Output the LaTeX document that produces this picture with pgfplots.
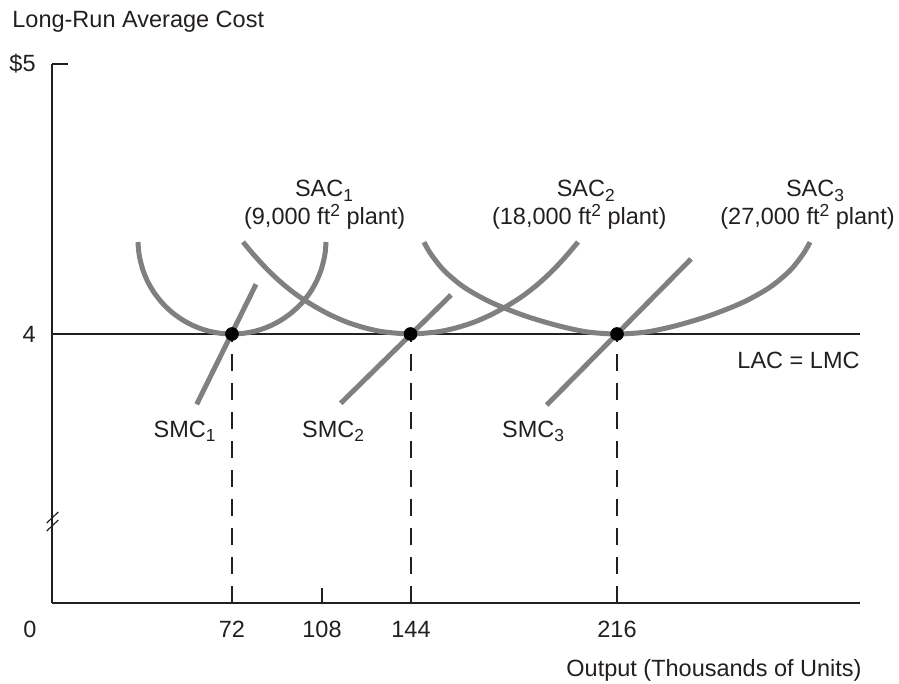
\documentclass[border=0pt]{standalone}
\usepackage{fontspec}
\setmainfont{Liberation Sans}
\usepackage{pgfplots}
\pgfplotsset{compat=1.18}
\definecolor{curve}{RGB}{128,128,128}
\definecolor{ink}{RGB}{35,31,32}
\newcommand\mysub[1]{\raisebox{-2.1pt}{\fontsize{8.7}{8.7}\selectfont #1}}
\newcommand\mysup[1]{\raisebox{4.2pt}{\fontsize{8.7}{8.7}\selectfont #1}}
\begin{document}
\begin{tikzpicture}[font=\fontsize{11.75}{14}\selectfont]
\begin{axis}[
  x=0.5pt, y=0.5pt,
  xmin=52, xmax=860, ymin=81, ymax=620,
  axis x line*=bottom, axis y line*=left,
  axis line style={ink, line width=0.6pt},
  clip=false,
  major tick length=0pt,
  tick style={draw=none},
  xtick={232,322,411,617},
  xticklabels={\mbox{72},\mbox{108},\mbox{144},\mbox{216}},
  ytick={350,620},
  yticklabels={\mbox{4},\mbox{\$5}},
  xticklabel style={anchor=base, inner sep=0pt, yshift=-17.15pt, text=ink},
  yticklabel style={anchor=east, inner sep=0pt, xshift=-8pt, text=ink},
]
\path (axis cs:0,0) rectangle (axis cs:899,684);
% axis decorations
\draw[ink, line width=0.6pt] (axis cs:322,81) -- (axis cs:322,96);
\draw[ink, line width=0.6pt] (axis cs:52,620) -- (axis cs:68,620);
\draw[ink, line width=0.6pt] (axis cs:46.7,161) -- (axis cs:58.3,172);
\draw[ink, line width=0.6pt] (axis cs:46.7,153) -- (axis cs:58.3,164);

% dashed verticals
\addplot[ink, line width=0.6pt, dash pattern=on 8.5pt off 6pt] coordinates {(232,81) (232,350)};
\addplot[ink, line width=0.6pt, dash pattern=on 8.5pt off 6pt] coordinates {(411,81) (411,350)};
\addplot[ink, line width=0.6pt, dash pattern=on 8.5pt off 6pt] coordinates {(617,81) (617,350)};
% LAC = LMC
\addplot[ink, line width=0.6pt] coordinates {(52,350) (860,350)};

% SAC1
\addplot[curve, line width=2.5pt, smooth] coordinates {
(138.0,442.0) (138.4,435.8) (139.4,427.7) (142.6,415.0) (147.5,402.8) (154.1,391.4) (162.2,381.1) (171.6,372.0) (182.2,364.3) (193.8,358.1) (206.1,353.6) (218.9,350.9) (232,350)
(245.1,350.9) (257.9,353.6) (270.2,358.1) (281.8,364.3) (292.4,372.0) (301.9,381.1) (310.0,391.4) (316.5,402.8) (321.4,415.0) (324.6,427.7) (325.6,435.8) (326.0,442.0)};
% SAC2
\addplot[curve, line width=2.5pt, smooth] coordinates {
(243,442) (253.5,429.5) (263.5,418.5) (273.5,408.5) (283.5,399.5) (293.5,391.5) (303.5,384.5) (316.5,376.5) (330.5,369) (346.5,362) (363.5,356.5) (380.5,352.6) (396.5,350.8) (410.5,350)
(424.5,350.8) (440.5,352.6) (457.5,356.5) (474.5,362) (490.5,369) (504.5,376.5) (517.5,384.5) (527.5,391.5) (537.5,399.5) (547.5,408.5) (557.5,418.5) (567.5,429.5) (578,442)};
% SAC3
\addplot[curve, line width=2.5pt, smooth] coordinates {
(424,441.8) (430.7,430.2) (444,413.5) (464,396.8) (490.7,381.8) (524,368.5) (557.3,358.5) (587,352.1) (617,350)
(647,352.1) (676.7,358.5) (710,368.5) (743.3,381.8) (770,396.8) (790,413.5) (803.3,430.2) (810,441.8)};

% SMC lines
\addplot[curve, line width=2.5pt] coordinates {(196.7,279.7) (256,399.7)};
\addplot[curve, line width=2.5pt] coordinates {(340.7,280.7) (451,389)};
\addplot[curve, line width=2.5pt] coordinates {(546.7,279) (691,425)};

% tangency points
\addplot[only marks, mark=*, mark size=3.2pt, mark options={fill=black, draw=black}] coordinates {(232,350) (410.5,350) (617,350)};

% labels
\node[anchor=base west, inner sep=0pt, text=ink] at (axis cs:12,656) {Long-Run Average Cost};
\node[anchor=base, inner sep=0pt, text=ink] at (axis cs:30,46.7) {0};
\node[anchor=base east, inner sep=0pt, text=ink] at (axis cs:862,7.5) {Output (Thousands of Units)};
\node[anchor=base east, inner sep=0pt, text=ink] at (axis cs:860,315.7) {LAC = LMC};
\node[anchor=base west, inner sep=0pt, text=ink] at (axis cs:153.3,246.5) {SMC\mysub{1}};
\node[anchor=base west, inner sep=0pt, text=ink] at (axis cs:301.7,246.5) {SMC\mysub{2}};
\node[anchor=base west, inner sep=0pt, text=ink] at (axis cs:501.7,246.5) {SMC\mysub{3}};
\node[anchor=base, inner sep=0pt, text=ink] at (axis cs:324,487) {SAC\mysub{1}};
\node[anchor=base, inner sep=0pt, text=ink] at (axis cs:324.7,459) {(9,000 ft\mysup{2} plant)};
\node[anchor=base, inner sep=0pt, text=ink] at (axis cs:585.8,487) {SAC\mysub{2}};
\node[anchor=base, inner sep=0pt, text=ink] at (axis cs:579.2,459) {(18,000 ft\mysup{2} plant)};
\node[anchor=base, inner sep=0pt, text=ink] at (axis cs:815,487) {SAC\mysub{3}};
\node[anchor=base, inner sep=0pt, text=ink] at (axis cs:807.5,459) {(27,000 ft\mysup{2} plant)};
\end{axis}
\end{tikzpicture}
\end{document}
